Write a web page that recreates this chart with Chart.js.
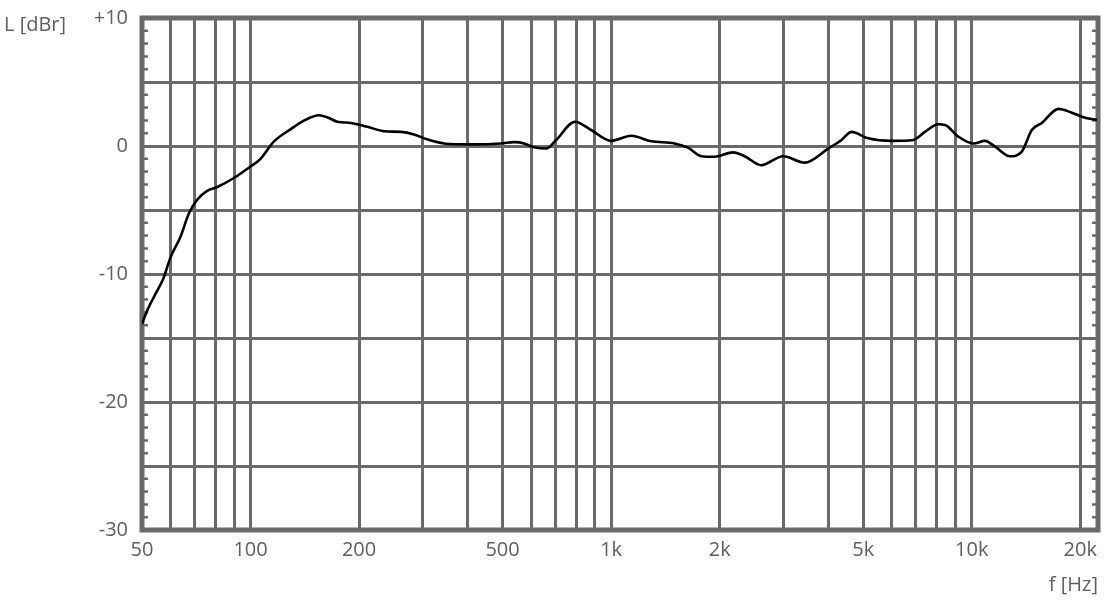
<!DOCTYPE html>
<html>
<head>
<meta charset="utf-8">
<script src="https://cdn.jsdelivr.net/npm/chart.js@4.4.1/dist/chart.umd.min.js"></script>
<style>
  html, body { margin: 0; padding: 0; background: #ffffff; }
  #wrap { width: 1116px; height: 605px; position: relative; }
</style>
</head>
<body>
<div id="wrap"><canvas id="c"></canvas></div>
<script>
// ---- data ----
const freqs = [50, 51.6, 54.4, 57.2, 60, 63.9, 67.4, 71.1, 75.8, 80.9, 89.9, 100, 106.6, 116, 129, 141, 155, 163, 174, 190, 211, 235, 261, 284, 310, 344, 408, 495, 539, 574, 612, 660, 704, 794, 880, 1000, 1136, 1292, 1499, 1633, 1778, 1936, 2178, 2346, 2610, 2998, 3443, 3999, 4355, 4642, 5164, 5995, 6887, 7418, 8084, 8432, 9185, 10109, 10887, 11607, 12776, 13767, 14678, 15643, 17412, 18957, 20640, 22248];
const levels = [-13.9, -12.9, -11.6, -10.4, -8.7, -7.1, -5.3, -4.2, -3.5, -3.2, -2.5, -1.6, -1.0, 0.34, 1.3, 2.0, 2.4, 2.25, 1.9, 1.8, 1.5, 1.15, 1.1, 0.9, 0.5, 0.2, 0.13, 0.2, 0.3, 0.2, -0.1, -0.2, 0.47, 1.9, 1.25, 0.4, 0.8, 0.37, 0.2, -0.13, -0.8, -0.84, -0.5, -0.8, -1.5, -0.8, -1.3, -0.2, 0.47, 1.1, 0.6, 0.4, 0.47, 1.1, 1.7, 1.65, 0.73, 0.2, 0.4, -0.05, -0.8, -0.44, 1.25, 1.8, 2.9, 2.6, 2.2, 2.04];
const gridFreqs = [50, 60, 70, 80, 90, 100, 200, 300, 400, 500, 600, 700, 800, 900, 1000, 2000, 3000, 4000, 5000, 6000, 7000, 8000, 9000, 10000, 20000];
const labelFreqs = [50, 100, 200, 500, 1000, 2000, 5000, 10000, 20000];
const labelTexts = ['50', '100', '200', '500', '1k', '2k', '5k', '10k', '20k'];
const yMin = -30, yMax = 10, yStep = 5, minorStep = 1;
const xMin = 50, xMax = 22400;

const GRAY = '#6a6a6a';
const TEXT = '#5f5f5f';
const FONT = '"Open Sans", "DejaVu Sans", sans-serif';

const framePlugin = {
  id: 'frame',
  beforeDatasetsDraw(chart) {
    const {ctx, chartArea: a} = chart;
    const y = chart.scales.y;
    ctx.save();
    ctx.strokeStyle = GRAY;
    ctx.lineWidth = 2.5;
    for (let v = yMin; v <= yMax; v += minorStep) {
      if (v % yStep === 0) continue;
      const py = y.getPixelForValue(v);
      ctx.beginPath();
      ctx.moveTo(a.left, py); ctx.lineTo(a.left + 6, py);
      ctx.moveTo(a.right, py); ctx.lineTo(a.right - 6, py);
      ctx.stroke();
    }
    ctx.lineWidth = 5;
    ctx.strokeRect(a.left, a.top, a.right - a.left, a.bottom - a.top);
    ctx.restore();
  },
  afterDraw(chart) {
    const {ctx} = chart;
    ctx.save();
    ctx.fillStyle = TEXT;
    ctx.font = '20px ' + FONT;
    ctx.textAlign = 'left';
    ctx.textBaseline = 'middle';
    ctx.fillText('L [dBr]', 4, 25);
    ctx.restore();
  }
};

new Chart(document.getElementById('c'), {
  type: 'line',
  data: {
    datasets: [{
      data: freqs.map((f, i) => ({x: f, y: levels[i]})),
      borderColor: '#000000',
      borderWidth: 2.6,
      pointRadius: 0,
      cubicInterpolationMode: 'monotone',
      fill: false
    }]
  },
  options: {
    responsive: true,
    maintainAspectRatio: false,
    animation: false,
    devicePixelRatio: 1,
    layout: { padding: { top: 18, right: 18, left: 0, bottom: 0 } },
    plugins: { legend: { display: false }, tooltip: { enabled: false } },
    scales: {
      x: {
        type: 'logarithmic',
        min: xMin,
        max: xMax,
        afterBuildTicks(scale) { scale.ticks = gridFreqs.map(v => ({value: v})); },
        afterFit(scale) { scale.height = 75; },
        grid: { color: GRAY, lineWidth: 3, drawTicks: false },
        border: { display: false },
        ticks: {
          autoSkip: false,
          maxRotation: 0,
          padding: 8,
          color: TEXT,
          font: { family: FONT, size: 20 },
          callback(value) {
            const i = labelFreqs.indexOf(value);
            return i >= 0 ? labelTexts[i] : '';
          }
        },
        title: {
          display: true,
          text: 'f [Hz]',
          align: 'end',
          color: TEXT,
          font: { family: FONT, size: 20 },
          padding: { top: 0, bottom: 8 }
        }
      },
      y: {
        min: yMin,
        max: yMax,
        afterFit(scale) { scale.width = 142; scale.paddingTop = 0; scale.paddingBottom = 0; },
        grid: { color: GRAY, lineWidth: 3, drawTicks: false },
        border: { display: false },
        ticks: {
          stepSize: yStep,
          padding: 14,
          color: TEXT,
          font: { family: FONT, size: 20 },
          callback(v) {
            if (v % 10 !== 0) return '';
            return v > 0 ? '+' + v : String(v);
          }
        }
      }
    }
  },
  plugins: [framePlugin]
});
</script>
</body>
</html>
